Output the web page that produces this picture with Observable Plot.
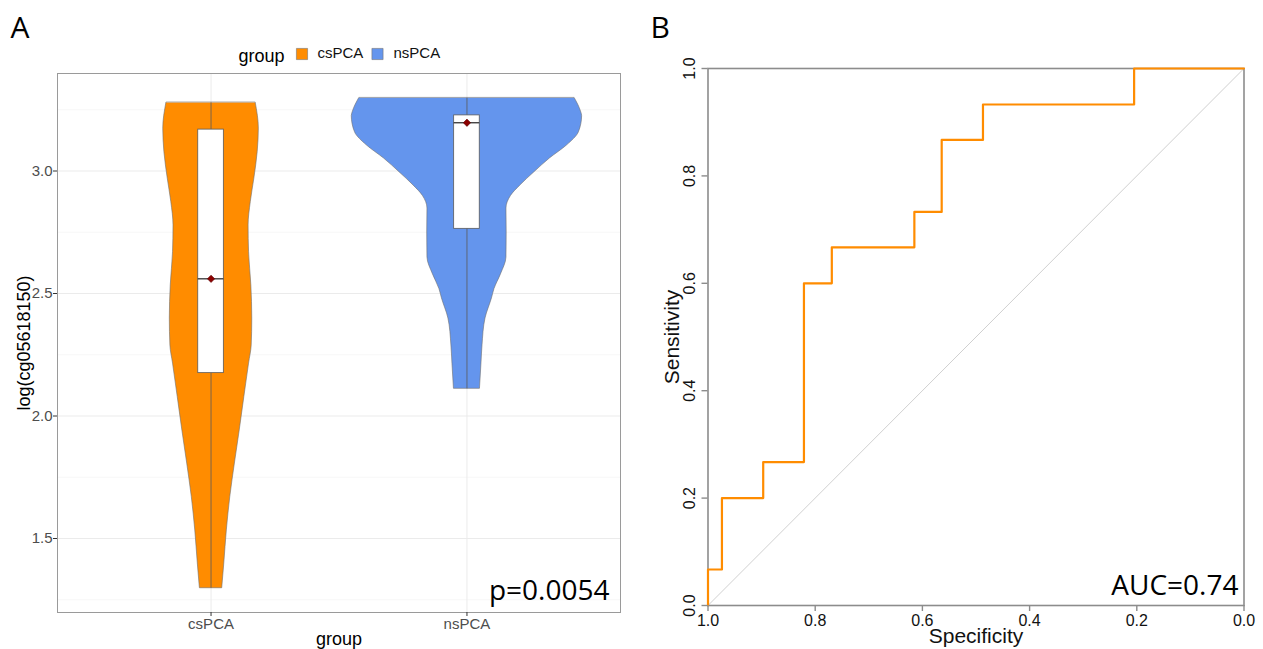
<!DOCTYPE html>
<html><head><meta charset="utf-8">
<script src="https://cdn.jsdelivr.net/npm/d3@7"></script>
<script src="https://cdn.jsdelivr.net/npm/@observablehq/plot@0.6"></script>
<style>
body{margin:0;background:#fff;}
#wrap{position:relative;width:1263px;height:649px;display:flex;}
#wrap svg{display:block;flex-shrink:0;}
</style></head><body><div id="wrap"></div>
<script>
// ---------- Panel A data ----------
const groups = ["csPCA", "nsPCA"];
const groupColors = ["#FF8C00", "#6495ED"];
// violin outline: value (log scale) and relative half-width (1 = widest)
const csViolinY = [3.278, 3.173, 3.077, 2.969, 2.873, 2.778, 2.669, 2.533, 2.398, 2.288, 2.214, 2.077, 1.941, 1.806, 1.669, 1.533, 1.398, 1.297];
const csViolinW = [0.388, 0.415, 0.405, 0.376, 0.345, 0.326, 0.330, 0.350, 0.358, 0.353, 0.330, 0.289, 0.249, 0.207, 0.167, 0.137, 0.115, 0.097];
const nsViolinY = [3.297, 3.243, 3.224, 3.158, 3.104, 3.051, 2.995, 2.941, 2.898, 2.847, 2.749, 2.647, 2.578, 2.518, 2.480, 2.398, 2.288, 2.214, 2.111];
const nsViolinW = [0.936, 0.990, 1.000, 0.972, 0.868, 0.720, 0.586, 0.464, 0.382, 0.343, 0.345, 0.343, 0.295, 0.239, 0.217, 0.161, 0.135, 0.126, 0.113];
const boxQ1 = [2.175, 2.764];
const boxMedian = [2.560, 3.197];
const boxQ3 = [3.169, 3.227];
const dataMin = [1.297, 2.111];
const dataMax = [3.278, 3.297];
const groupMean = [2.560, 3.197];
const majorTicksA = [1.5, 2.0, 2.5, 3.0];
const minorTicksA = [1.25, 1.75, 2.25, 2.75, 3.25];
const pLabel = "p=0.0054";
const yTitleA = "log(cg05618150)";
const xTitleA = "group";

// ---------- Panel B data ----------
const rocSpec = [1.000, 1.000, 0.974, 0.974, 0.897, 0.897, 0.821, 0.821, 0.769, 0.769, 0.615, 0.615, 0.564, 0.564, 0.487, 0.487, 0.205, 0.205, 0.000];
const rocSens = [0.000, 0.067, 0.067, 0.200, 0.200, 0.267, 0.267, 0.600, 0.600, 0.667, 0.667, 0.733, 0.733, 0.867, 0.867, 0.933, 0.933, 1.000, 1.000];
const diagSpec = [1, 0];
const diagSens = [0, 1];
const ticksB = [0.0, 0.2, 0.4, 0.6, 0.8, 1.0];
const aucLabel = "AUC=0.74";

// ---------- build tables ----------
const violins = [
  csViolinY.map((v, j) => ({xi: 1, v, w: csViolinW[j]})),
  nsViolinY.map((v, j) => ({xi: 2, v, w: nsViolinW[j]}))
];
const boxes = groups.map((g, i) => ({g, xi: i + 1, q1: boxQ1[i], med: boxMedian[i], q3: boxQ3[i], lo: dataMin[i], hi: dataMax[i], mean: groupMean[i]}));
const halfViolin = 0.45, halfBox = 0.05;
const sans = "'Liberation Sans', Arial, sans-serif";
const open = "'Open Sans', 'Noto Sans', sans-serif";

const plotA = Plot.plot({
  width: 640, height: 649,
  marginLeft: 57, marginRight: 20, marginTop: 73, marginBottom: 37,
  style: {fontFamily: sans, fontSize: "15px", background: "#fff", overflow: "visible"},
  x: {domain: [0.4, 2.6]},
  y: {domain: [1.198, 3.398]},
  marks: [
    Plot.gridY({ticks: minorTicksA, stroke: "#f3f3f3", strokeOpacity: 1, strokeWidth: 0.7}),
    Plot.gridY({ticks: majorTicksA, stroke: "#ebebeb", strokeOpacity: 1, strokeWidth: 1}),
    Plot.gridX({ticks: [1, 2], stroke: "#ebebeb", strokeOpacity: 1, strokeWidth: 1}),
    ...violins.map((vd, i) => Plot.areaX(vd, {
      y: "v", x1: d => d.xi - d.w * halfViolin, x2: d => d.xi + d.w * halfViolin,
      fill: groupColors[i], stroke: "#6e6e6e", strokeWidth: 0.6, curve: "monotone-y"
    })),
    Plot.ruleX(boxes, {x: "xi", y1: "lo", y2: "hi", stroke: "#5a5a5a", strokeWidth: 0.8}),
    Plot.rect(boxes, {x1: d => d.xi - halfBox, x2: d => d.xi + halfBox, y1: "q1", y2: "q3", fill: "white", stroke: "#5a5a5a", strokeWidth: 0.8}),
    Plot.ruleY(boxes, {y: "med", x1: d => d.xi - halfBox, x2: d => d.xi + halfBox, stroke: "#333", strokeWidth: 1.3}),
    Plot.dot(boxes, {x: "xi", y: "mean", symbol: "diamond2", r: 3.3, fill: "#8B0000", stroke: "#5c0000", strokeWidth: 0.6}),
    Plot.frame({stroke: "#9a9a9a", strokeWidth: 1}),
    Plot.axisY({ticks: majorTicksA, tickSize: 4, tickPadding: 1, tickFormat: d => d.toFixed(1), fill: "#4d4d4d", stroke: "#333", label: null, fontSize: 15}),
    Plot.axisX({ticks: [1, 2], tickSize: 4, tickPadding: 2, tickFormat: d => groups[d - 1], fill: "#4d4d4d", stroke: "#333", label: null, fontSize: 15}),
    Plot.text([yTitleA], {text: d => d, frameAnchor: "left", rotate: -90, dx: -33, textAnchor: "middle", lineAnchor: "middle", fontSize: 18, fill: "#000"}),
    Plot.text([xTitleA], {text: d => d, frameAnchor: "bottom", dy: 32, lineAnchor: "bottom", fontSize: 18, fill: "#000"}),
    Plot.text([pLabel], {text: d => d, frameAnchor: "bottom-right", textAnchor: "end", lineAnchor: "bottom", dx: -11, dy: -13, fontSize: 28, fontFamily: open, fill: "#000"}),
    // legend
    Plot.text(["group"], {text: d => d, frameAnchor: "top-left", textAnchor: "start", lineAnchor: "bottom", dx: 181, dy: -12, fontSize: 18, fill: "#000"}),
    ...groups.map((g, i) => Plot.dot([g], {frameAnchor: "top-left", dx: 244.5 + i * 75.5, dy: -19.5, symbol: "square", r: 6.3, fill: groupColors[i], stroke: "#777", strokeWidth: 0.6})),
    ...groups.map((g, i) => Plot.text([g], {text: d => d, frameAnchor: "top-left", textAnchor: "start", lineAnchor: "middle", dx: 260 + i * 76, dy: -20, fontSize: 15, fill: "#111"})),
    Plot.text(["A"], {text: d => d, frameAnchor: "top-left", textAnchor: "start", lineAnchor: "bottom", dx: -47, dy: -36, fontSize: 30, fontFamily: open, fill: "#000"})
  ]
});

const roc = rocSpec.map((s, i) => ({spec: s, sens: rocSens[i]}));
const diag = diagSpec.map((s, i) => ({spec: s, sens: diagSens[i]}));

const plotB = Plot.plot({
  width: 623, height: 649,
  marginLeft: 67.5, marginRight: 19.5, marginTop: 68, marginBottom: 44,
  style: {fontFamily: sans, fontSize: "16px", background: "#fff", overflow: "visible"},
  x: {domain: [1, 0]},
  y: {domain: [0, 1]},
  marks: [
    Plot.line(diag, {x: "spec", y: "sens", stroke: "#d0d0d0", strokeWidth: 1}),
    Plot.frame({stroke: "#8c8c8c", strokeWidth: 1.6}),
    Plot.line(roc, {x: "spec", y: "sens", stroke: "#FF8C00", strokeWidth: 2.2}),
    Plot.axisX({ticks: ticksB, tickSize: 6, tickPadding: 3, tickFormat: d => d.toFixed(1), stroke: "#8c8c8c", strokeWidth: 1.4, fill: "#111", fontSize: 16, label: null}),
    Plot.axisY({ticks: ticksB, tickSize: 6, fill: "none", stroke: "#8c8c8c", strokeWidth: 1.4, label: null}),
    Plot.text(ticksB, {y: d => d, text: d => d.toFixed(1), frameAnchor: "left", dx: -18.5, rotate: -90, textAnchor: "middle", lineAnchor: "middle", fontSize: 16, fill: "#111"}),
    Plot.text(["Sensitivity"], {text: d => d, frameAnchor: "left", rotate: -90, dx: -35.5, textAnchor: "middle", lineAnchor: "middle", fontSize: 21, fill: "#111"}),
    Plot.text(["Specificity"], {text: d => d, frameAnchor: "bottom", dy: 37, lineAnchor: "bottom", fontSize: 21, fill: "#111"}),
    Plot.text([aucLabel], {text: d => d, frameAnchor: "bottom-right", textAnchor: "end", lineAnchor: "bottom", dx: -5.5, dy: -11, fontSize: 28, fontFamily: open, fill: "#000"}),
    Plot.text(["B"], {text: d => d, frameAnchor: "top-left", textAnchor: "start", lineAnchor: "bottom", dx: -57.5, dy: -31, fontSize: 30, fontFamily: open, fill: "#000"})
  ]
});

const wrap = document.getElementById("wrap");
wrap.appendChild(plotA);
wrap.appendChild(plotB);
</script>
</body></html>
